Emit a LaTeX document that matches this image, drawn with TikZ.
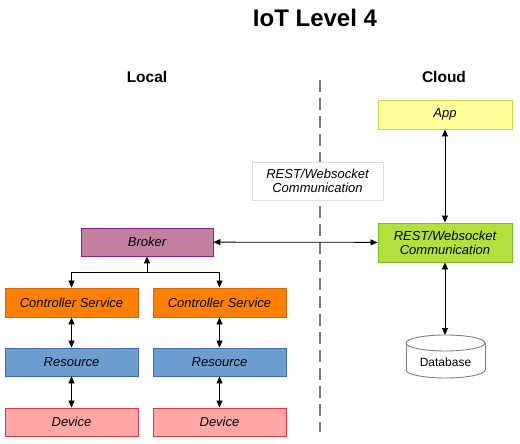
\documentclass[tikz,border=0pt]{standalone}
\usepackage{fontspec}
\setmainfont{Liberation Sans}
\usetikzlibrary{arrows.meta}
\definecolor{brokerfill}{HTML}{C27FA0}
\definecolor{brokerline}{HTML}{8E1F8C}
\definecolor{csfill}{HTML}{FF8000}
\definecolor{csline}{HTML}{CC6A10}
\definecolor{resfill}{HTML}{6D9DD1}
\definecolor{resline}{HTML}{3F6DB0}
\definecolor{devfill}{HTML}{FFA6A6}
\definecolor{devline}{HTML}{DD3C3C}
\definecolor{appfill}{HTML}{FFFF99}
\definecolor{appline}{HTML}{D4D44C}
\definecolor{grnfill}{HTML}{B4E03E}
\definecolor{grnline}{HTML}{7CBF2C}
\definecolor{dashgray}{HTML}{7A7A7A}
\begin{document}
\begin{tikzpicture}[x=1pt,y=-1pt,
  box/.style={draw, line width=0.9pt, minimum width=133pt, minimum height=29pt, inner sep=0pt,
    font=\fontsize{13}{15}\selectfont\itshape, align=center},
  conn/.style={line width=0.8pt, {Triangle[length=7pt,width=6pt]}-{Triangle[length=7pt,width=6pt]}},
  oneway/.style={line width=0.8pt, -{Triangle[length=7pt,width=6pt]}},
  plain/.style={line width=0.8pt},
  head/.style={font=\fontsize{15.5}{18}\selectfont\bfseries}]
\useasboundingbox (0,0) rectangle (520,444);
\fill[white] (0,0) rectangle (520,444);
% title and headings
\node[font=\fontsize{24}{28}\selectfont\bfseries] (title) at (315,18) {IoT Level 4};
\node[head] (local) at (147,77) {Local};
\node[head] (cloud) at (444,77) {Cloud};
% divider
\draw[dashgray, line width=1.8pt, dash pattern=on 12pt off 6pt] (320,80) -- (320,432);
% cloud side
\node[box, fill=appfill, draw=appline, minimum width=134pt] (app) at (445,114.5) {App};
\node[draw=black!13, line width=0.8pt, fill=white, minimum width=131pt, minimum height=38pt, inner sep=0pt,
  font=\fontsize{13}{14}\selectfont\itshape, align=center] (restlbl) at (317.5,181) {REST/Websocket\\Communication};
\node[box, fill=grnfill, draw=grnline, minimum width=134pt, minimum height=39pt,
  font=\fontsize{13}{14}\selectfont\itshape] (rest) at (445,242.5) {REST/Websocket\\Communication};
% database cylinder
\fill[white] (406,343) rectangle (485,370);
\fill[white] (445.5,370) ellipse [x radius=39.5pt, y radius=8pt];
\begin{scope}
  \clip (400,370) rectangle (490,392);
  \draw[gray, line width=0.9pt] (445.5,370) ellipse [x radius=39.5pt, y radius=8pt];
\end{scope}
\draw[gray, line width=0.9pt] (406,343) -- (406,370) (485,343) -- (485,370);
\draw[gray, line width=0.9pt, fill=white] (445.5,343) ellipse [x radius=39.5pt, y radius=8pt];
\node[font=\fontsize{12}{14}\selectfont] (db) at (445.5,362) {Database};
\coordinate (dbtop) at (445,335);
% local side
\node[box, fill=brokerfill, draw=brokerline, minimum width=132pt, minimum height=28pt] (broker) at (147,242) {Broker};
\node[box, fill=csfill, draw=csline] (cs1) at (71.5,302.5) {Controller Service};
\node[box, fill=csfill, draw=csline] (cs2) at (219.5,302.5) {Controller Service};
\node[box, fill=resfill, draw=resline, minimum height=28pt] (res1) at (71.5,362) {Resource};
\node[box, fill=resfill, draw=resline, minimum height=28pt] (res2) at (219.5,362) {Resource};
\node[box, fill=devfill, draw=devline, minimum height=28pt] (dev1) at (71.5,422) {Device};
\node[box, fill=devfill, draw=devline, minimum height=28pt] (dev2) at (219.5,422) {Device};
\coordinate (j) at (147,272);
% connectors
\draw[conn] (app) -- (rest);
\draw[conn] (rest) -- (dbtop);
\draw[conn] (broker) -- (rest);
\draw[oneway] (j) -- (broker);
\draw[oneway] (j) -| (cs1);
\draw[oneway] (j) -| (cs2);
\draw[conn] (cs1) -- (res1);
\draw[conn] (cs2) -- (res2);
\draw[conn] (res1) -- (dev1);
\draw[conn] (res2) -- (dev2);
\end{tikzpicture}
\end{document}
